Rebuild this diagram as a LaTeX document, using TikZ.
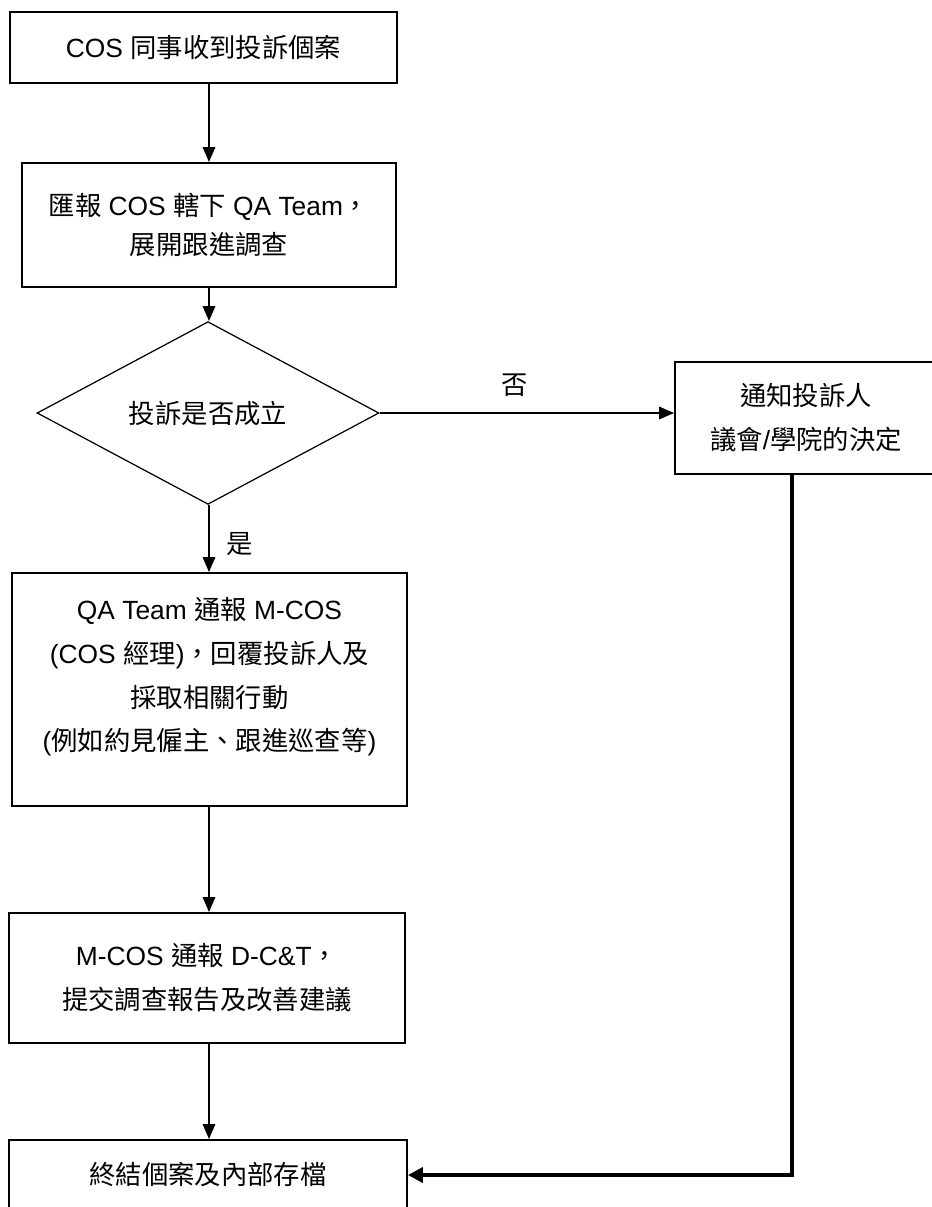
\documentclass[tikz,border=0pt]{standalone}
\usepackage{fontspec}
\setmainfont{Liberation Sans}
\newfontfamily\zhfont[Script=CJK, Language=Chinese Traditional]{Noto Sans CJK TC}
\newcommand{\zh}[1]{{\zhfont #1}}
\usetikzlibrary{shapes.geometric,arrows.meta,positioning,calc}

\tikzset{
  stepbox/.style={draw, line width=1.1pt, align=center, inner sep=0pt, font=\fontsize{15}{25}\selectfont},
  check/.style={draw, diamond, line width=0.7pt, inner sep=0pt, font=\fontsize{15}{25}\selectfont},
  flow/.style={line width=1pt, -{Triangle[length=0.3cm,width=0.25cm]}},
  back/.style={line width=2.8pt, -{Triangle[length=0.3cm,width=0.3cm]}},
  tag/.style={font=\fontsize{15}{25}\selectfont, inner sep=0pt},
}

\begin{document}
\begin{tikzpicture}[x=0.02cm, y=-0.02cm]
  \useasboundingbox (0,0) rectangle (931,1207);

  % main column
  \coordinate (col) at (209,0);
  \node[stepbox, minimum width=7.74cm, minimum height=1.42cm] (recv) at (203.5,47.5) {COS \zh{同事收到投訴個案}};
  \node[stepbox, minimum width=7.48cm, minimum height=2.48cm, font=\fontsize{15}{22}\selectfont] (report) at (209,225)
    {\zh{匯報} COS \zh{轄下} QA Team\zh{，}\\ \zh{展開跟進調查}};
  \node[check, minimum width=6.84cm, minimum height=2.52cm] (valid) at (208,413) {\zh{投訴是否成立}};
  \node[stepbox, minimum width=7.9cm, minimum height=4.66cm, text depth=0.62cm] (act) at (209.5,689.5)
    {QA Team \zh{通報} M-COS\\ (COS \zh{經理})\zh{，回覆投訴人及}\\ \zh{採取相關行動}\\ (\zh{例如約見僱主、跟進巡查等})};
  \node[stepbox, minimum width=7.92cm, minimum height=2.6cm] (escal) at (207,978)
    {M-COS \zh{通報} D-C\&T\zh{，}\\ \zh{提交調查報告及改善建議}};
  \node[stepbox, minimum width=7.96cm, minimum height=1.4cm] (close) at (208,1175) {\zh{終結個案及內部存檔}};

  % side branch
  \node[stepbox, minimum width=5.24cm, minimum height=2.24cm] (notify) at (806,418)
    {\zh{通知投訴人}\\ \zh{議會}/\zh{學院的決定}};

  \draw[flow] (recv.south -| col) -- (report.north -| col);
  \draw[flow] (report.south -| col) -- (valid.north -| col);
  \draw[flow] (valid.east) -- node[tag, pos=0.46, yshift=0.56cm] {\zh{否}} (valid.east -| notify.west);
  \draw[flow] (valid.south -| col) -- node[tag, pos=0.58, xshift=0.62cm] {\zh{是}} (act.north -| col);
  \draw[flow] (act.south -| col) -- (escal.north -| col);
  \draw[flow] (escal.south -| col) -- (close.north -| col);
  \draw[back] ([xshift=-0.28cm]notify.south) |- (close.east);
\end{tikzpicture}
\end{document}
